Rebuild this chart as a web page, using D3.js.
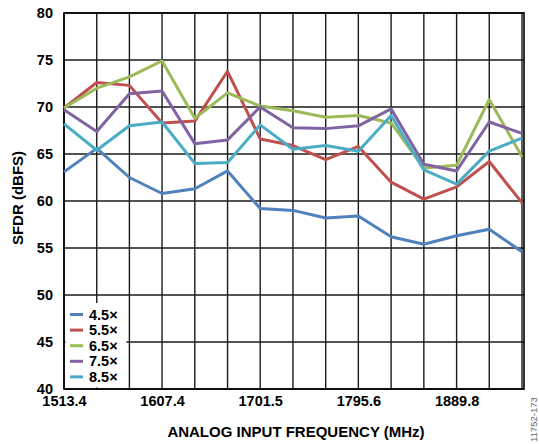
<!DOCTYPE html>
<html>
<head>
<meta charset="utf-8">
<script src="https://cdn.jsdelivr.net/npm/d3@7"></script>
<style>
  html, body { margin: 0; padding: 0; background: #fff; }
  svg text { font-family: "Liberation Sans", Arial, sans-serif; font-weight: bold; fill: #000; }
</style>
</head>
<body>
<svg id="chart" width="539" height="444"></svg>
<script>
// ---- data ----
const freqs = [1513.4, 1544.8, 1576.1, 1607.4, 1638.8, 1670.2, 1701.5, 1732.9, 1764.3, 1795.6, 1827.0, 1858.4, 1889.8, 1921.1, 1952.5];
const xTickLabels = [1513.4, 1607.4, 1701.5, 1795.6, 1889.8];
const yTicks = [40, 45, 50, 55, 60, 65, 70, 75, 80];
const seriesNames = ["4.5×", "5.5×", "6.5×", "7.5×", "8.5×"];
const s45 = [63.1, 65.6, 62.5, 60.8, 61.3, 63.2, 59.2, 59.0, 58.2, 58.4, 56.2, 55.4, 56.3, 57.0, 54.6];
const s55 = [69.9, 72.6, 72.3, 68.3, 68.5, 73.8, 66.6, 65.9, 64.4, 65.8, 62.0, 60.2, 61.5, 64.2, 59.8];
const s65 = [69.9, 72.0, 73.2, 74.9, 68.8, 71.5, 70.1, 69.6, 68.9, 69.1, 68.3, 63.5, 63.8, 70.8, 64.7];
const s75 = [69.7, 67.4, 71.4, 71.7, 66.1, 66.5, 70.0, 67.8, 67.7, 68.0, 69.8, 63.9, 63.2, 68.4, 67.2];
const s85 = [68.2, 65.4, 68.0, 68.4, 64.0, 64.1, 68.1, 65.5, 65.9, 65.3, 69.1, 63.3, 61.8, 65.3, 66.7];
const seriesValues = [s45, s55, s65, s75, s85];
const colors = ["#4F81BD", "#C0504D", "#9BBB59", "#8064A2", "#4BACC6"];

// ---- layout ----
const W = 539, H = 444;
const margin = { left: 64, right: 15, top: 13, bottom: 55 };
const svg = d3.select("#chart");

const x = d3.scaleLinear()
  .domain([freqs[0], freqs[freqs.length - 1]])
  .range([margin.left, W - margin.right - 2]);
const y = d3.scaleLinear().domain([40, 80]).range([H - margin.bottom, margin.top]);
const xRight = W - margin.right;

// grid
const grid = svg.append("g");
grid.selectAll("line.v").data(freqs).enter().append("line")
  .attr("x1", d => x(d)).attr("x2", d => x(d))
  .attr("y1", y(80)).attr("y2", y(40))
  .attr("stroke", "#1a1a1a").attr("stroke-width", 1.4);
grid.selectAll("line.h").data(yTicks).enter().append("line")
  .attr("x1", margin.left).attr("x2", xRight)
  .attr("y1", d => y(d)).attr("y2", d => y(d))
  .attr("stroke", "#1a1a1a").attr("stroke-width", 1.4);
// frame
svg.append("rect")
  .attr("x", margin.left).attr("y", y(80))
  .attr("width", xRight - margin.left).attr("height", y(40) - y(80))
  .attr("fill", "none").attr("stroke", "#000").attr("stroke-width", 1.6);

// axes labels via d3 axes
const yAxis = d3.axisLeft(y).tickValues(yTicks).tickSize(0).tickPadding(11).tickFormat(d3.format("d"));
const gy = svg.append("g").attr("transform", `translate(${margin.left},0)`).call(yAxis);
gy.select(".domain").remove();
gy.selectAll("text").attr("font-size", 14.5).attr("font-family", "Liberation Sans, Arial, sans-serif").attr("font-weight", "bold").attr("fill", "#000");

const xAxis = d3.axisBottom(x).tickValues(xTickLabels).tickSize(0).tickPadding(7).tickFormat(d3.format(".1f"));
const gx = svg.append("g").attr("transform", `translate(0,${y(40)})`).call(xAxis);
gx.select(".domain").remove();
gx.selectAll("text").attr("font-size", 14.5).attr("font-family", "Liberation Sans, Arial, sans-serif").attr("font-weight", "bold").attr("fill", "#000");

// series lines
const line = d3.line().x((d, i) => x(freqs[i])).y(d => y(d));
svg.append("g").selectAll("path").data(seriesValues).enter().append("path")
  .attr("d", d => line(d))
  .attr("fill", "none")
  .attr("stroke", (d, i) => colors[i])
  .attr("stroke-width", 3)
  .attr("stroke-linejoin", "round");

// legend
const lg = svg.append("g");
lg.append("rect").attr("x", margin.left + 1.5).attr("y", 303).attr("width", 61).attr("height", y(40) - 303 - 1.5).attr("fill", "#fff");
const ly0 = 314.5, lStep = 15.6;
seriesNames.forEach((name, i) => {
  lg.append("line").attr("x1", 70).attr("x2", 83)
    .attr("y1", ly0 + i * lStep).attr("y2", ly0 + i * lStep)
    .attr("stroke", colors[i]).attr("stroke-width", 3);
  lg.append("text").attr("x", 89).attr("y", ly0 + i * lStep + 5)
    .attr("font-size", 14.5).text(name);
});

// titles
svg.append("text").attr("x", (margin.left + xRight) / 2 + 2).attr("y", 437)
  .attr("text-anchor", "middle").attr("font-size", 15)
  .text("ANALOG INPUT FREQUENCY (MHz)");
svg.append("text").attr("transform", "translate(23,198) rotate(-90)")
  .attr("text-anchor", "middle").attr("font-size", 15)
  .text("SFDR (dBFS)");
svg.append("text").attr("transform", "translate(536.5,442) rotate(-90)")
  .attr("text-anchor", "start").attr("font-size", 9.5)
  .style("font-weight", "normal").style("fill", "#666")
  .text("11752-173");
</script>
</body>
</html>
